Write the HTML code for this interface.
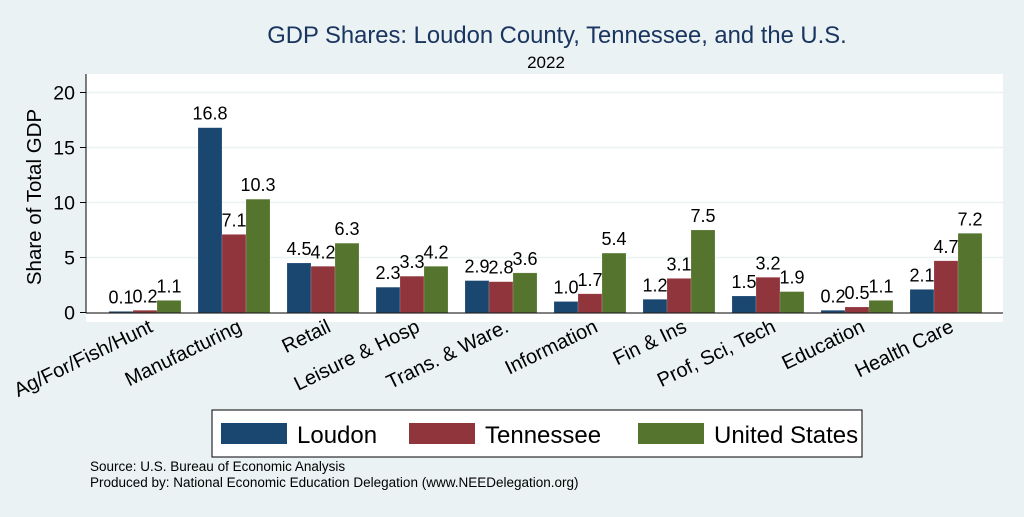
<!DOCTYPE html>
<html><head><meta charset="utf-8"><style>
body{margin:0;background:#eaf2f3;font-family:"Liberation Sans",sans-serif}
</style></head><body>
<svg width="1024" height="512" xmlns="http://www.w3.org/2000/svg">
<rect width="1024" height="512" fill="#eaf2f3"/>
<rect x="86" y="74" width="917" height="248" fill="#fff"/>
<text x="557" y="43" text-anchor="middle" font-size="23.8" fill="#1a3560">GDP Shares: Loudon County, Tennessee, and the U.S.</text>
<text x="546" y="68" text-anchor="middle" font-size="17" fill="#000">2022</text>
<g id="grid"></g><g id="bars"></g><g id="axis"></g>
<text transform="translate(41,197) rotate(-90)" text-anchor="middle" font-size="20.5">Share of Total GDP</text>
<rect x="212" y="410" width="650" height="47" fill="#fff" stroke="#000" stroke-width="1"/>
<g><rect x="221" y="423" width="66" height="21" fill="#1a476f"/><text x="297" y="443" font-size="24">Loudon</text></g>
<g><rect x="409" y="423" width="66" height="21" fill="#90353b"/><text x="485" y="443" font-size="24">Tennessee</text></g>
<g><rect x="638" y="423" width="66" height="21" fill="#55752f"/><text x="714" y="443" font-size="24">United States</text></g>
<text x="90" y="471" font-size="13.5">Source: U.S. Bureau of Economic Analysis</text>
<text x="90" y="487" font-size="13.5">Produced by: National Economic Education Delegation (www.NEEDelegation.org)</text>
</svg>
<script>
const categories=["Ag/For/Fish/Hunt","Manufacturing","Retail","Leisure & Hosp","Trans. & Ware.","Information","Fin & Ins","Prof, Sci, Tech","Education","Health Care"];
const loudon=[0.1,16.8,4.5,2.3,2.9,1.0,1.2,1.5,0.2,2.1];
const tennessee=[0.2,7.1,4.2,3.3,2.8,1.7,3.1,3.2,0.5,4.7];
const unitedStates=[1.1,10.3,6.3,4.2,3.6,5.4,7.5,1.9,1.1,7.2];
const yTicks=[0,5,10,15,20];
const NS="http://www.w3.org/2000/svg";
const y=v=>312.5-v*11;
const xc=i=>145+i*89;
const mk=(t,a,p)=>{const e=document.createElementNS(NS,t);for(const k in a)e.setAttribute(k,a[k]);p.appendChild(e);return e;};
const grid=document.getElementById('grid'),bars=document.getElementById('bars'),axis=document.getElementById('axis');
yTicks.forEach(t=>{
 if(t>0){const g=mk('line',{x1:86,x2:1003,y1:y(t),y2:y(t),stroke:'#eaf2f3','stroke-width':1.5},grid);
 
 }
 const tk=mk('line',{x1:80,x2:86,y1:y(t),y2:y(t),stroke:'#000'},axis);
 
 
 const l=mk('text',{x:75,y:y(t)+7,'text-anchor':'end','font-size':19.5},axis);l.textContent=t;
 
 
});
const series=[[loudon,'#1a476f',-1,'loudon'],[tennessee,'#90353b',0,'tennessee'],[unitedStates,'#55752f',1,'united-states']];
categories.forEach((c,i)=>{
 series.forEach(([d,col,off,nm])=>{
  const x0=xc(i)+off*24-12;
  const r=mk('rect',{x:x0,y:y(d[i]),width:24,height:d[i]*11,fill:col,stroke:'#fff','stroke-opacity':0.3,'stroke-width':0.5},bars);
  
  
  const t=mk('text',{x:x0+12,y:y(d[i])-8,'text-anchor':'middle','font-size':18},bars);t.textContent=d[i].toFixed(1);
  
  
 });
 const tl=mk('text',{transform:`translate(${xc(i)+9},${331}) rotate(-26)`,'text-anchor':'end','font-size':20},axis);tl.textContent=c;
 
 
});
const ax=mk('line',{x1:86,x2:86,y1:74,y2:313,stroke:'#000'},axis);


const bx=mk('line',{x1:86,x2:1003,y1:313,y2:313,stroke:'#000'},axis);


</script>
</body></html>
